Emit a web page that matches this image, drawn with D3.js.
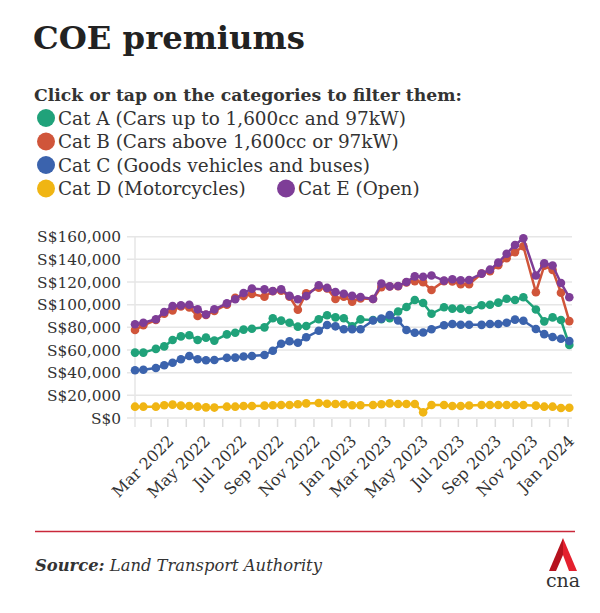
<!DOCTYPE html>
<html>
<head>
<meta charset="utf-8">
<script src="https://cdn.jsdelivr.net/npm/d3@7"></script>
<style>
  html, body { margin: 0; padding: 0; background: #fff; }
  svg { display: block; }
  text { font-family: "DejaVu Serif", "Liberation Serif", serif; }
</style>
</head>
<body>
<svg id="chart" width="600" height="613"></svg>
<script>
// ---- DATA ----
const dates = [
  "2022-01-05","2022-01-19","2022-02-09","2022-02-23","2022-03-09","2022-03-23",
  "2022-04-06","2022-04-20","2022-05-04","2022-05-18","2022-06-08","2022-06-22",
  "2022-07-06","2022-07-20","2022-08-10","2022-08-24","2022-09-07","2022-09-21",
  "2022-10-05","2022-10-19","2022-11-09","2022-11-23","2022-12-07","2022-12-21",
  "2023-01-04","2023-01-18","2023-02-08","2023-02-22","2023-03-08","2023-03-22",
  "2023-04-05","2023-04-19","2023-05-03","2023-05-17","2023-06-07","2023-06-21",
  "2023-07-05","2023-07-19","2023-08-09","2023-08-23","2023-09-06","2023-09-20",
  "2023-10-04","2023-10-18","2023-11-08","2023-11-22","2023-12-06","2023-12-20",
  "2024-01-03"
];
const catA = [57700,57700,61000,63200,68800,72000,73000,68800,70900,68300,73800,75300,78000,78800,80000,88000,85900,84100,80600,81200,87200,90700,88800,88000,81000,87000,86500,87100,88000,94000,98000,104100,101500,92000,97700,96500,96500,95300,99500,100000,101800,105200,104100,106500,95800,85300,88800,86500,64500];
const catB = [77700,81800,86500,92000,95000,98500,97500,90000,91000,94500,100000,106000,107600,109400,107000,111800,112400,107000,95500,110000,115000,114400,105000,107000,102700,105500,105000,115500,116000,116300,119700,120800,119800,113000,120800,120600,118000,118000,127500,129600,134800,141000,146400,151500,111000,134300,130600,110600,85500];
const catC = [42100,42600,44100,46600,48800,51800,54700,51800,50900,51200,53100,53300,54300,54700,55600,59400,65500,67700,66400,71200,77000,82100,80900,78300,78300,78300,86000,87700,90800,86000,77700,75300,75500,78300,81800,82900,82300,82300,82200,82900,82900,84100,86800,85800,78500,74000,71500,69900,68000];
const catD = [10000,10000,10000,11200,11800,10900,10600,10000,9400,9200,10000,10000,10600,10600,10900,11200,11500,11500,12100,12900,13200,12600,12400,12100,11200,11200,11500,12100,12900,12400,12400,12400,5000,11500,11500,10600,10600,11000,11500,11500,11500,11500,11500,11500,10900,10000,10000,8800,9100];
const catE = [82700,84100,87100,93600,98900,99400,100000,95900,91300,95900,101200,104800,110300,114200,113500,112100,113500,107800,104800,107600,117200,114800,111200,109600,107800,106800,105000,118600,116200,116500,120000,125000,124700,125800,121200,122400,121500,121800,127400,130900,137100,145000,152700,158600,125800,136500,134600,119200,106500];

const seriesNames = [
  "Cat A (Cars up to 1,600cc and 97kW)",
  "Cat B (Cars above 1,600cc or 97kW)",
  "Cat C (Goods vehicles and buses)",
  "Cat D (Motorcycles)",
  "Cat E (Open)"
];
const seriesValues = [catA, catB, catC, catD, catE];
const seriesColors = ["#20a27a", "#d0553a", "#3b63ad", "#f0b513", "#7e3d97"];
const yTicks = [0, 20000, 40000, 60000, 80000, 100000, 120000, 140000, 160000];

const title = "COE premiums";
const subtitle = "Click or tap on the categories to filter them:";
const sourceLabel = "Source:";
const sourceText = " Land Transport Authority";

// ---- DRAW ----
const svg = d3.select("#chart");
const parse = d3.timeParse("%Y-%m-%d");
const dts = dates.map(parse);

function fit(sel, target) {
  const n = sel.node();
  const fs = parseFloat(sel.attr("font-size"));
  const w = n.getComputedTextLength();
  sel.attr("font-size", (fs * target / w).toFixed(2));
}

// Title
const t = svg.append("text").attr("x", 33).attr("y", 49)
  .attr("font-size", 34).attr("font-weight", "bold").attr("fill", "#222").text(title);
fit(t, 272);

const st = svg.append("text").attr("x", 34).attr("y", 101)
  .attr("font-size", 18).attr("font-weight", "bold").attr("fill", "#333").text(subtitle);
fit(st, 428);

// Legend
const legRows = [
  {i: 0, x: 46, y: 118},
  {i: 1, x: 46, y: 141.5},
  {i: 2, x: 46, y: 165},
  {i: 3, x: 46, y: 188.5},
  {i: 4, x: 286, y: 188.5}
];
const probe = svg.append("text").attr("font-size", 17).text(seriesNames[0]);
const legFont = 17 * 348 / probe.node().getComputedTextLength();
probe.remove();
legRows.forEach(r => {
  svg.append("circle").attr("cx", r.x).attr("cy", r.y).attr("r", 9)
    .attr("fill", seriesColors[r.i]);
  svg.append("text").attr("x", r.x + 12).attr("y", r.y).attr("dy", "0.36em")
    .attr("font-size", legFont).attr("fill", "#333").text(seriesNames[r.i]);
});

// Scales
const x = d3.scaleTime().domain([dts[0], dts[dts.length - 1]]).range([135, 569.3]);
const y = d3.scaleLinear().domain([0, 160000]).range([418, 236.7]);

// Gridlines
svg.append("g").selectAll("line").data(yTicks).join("line")
  .attr("x1", 127).attr("x2", 572)
  .attr("y1", d => y(d)).attr("y2", d => y(d))
  .attr("stroke", "#e6e6e6").attr("stroke-width", 1.5);

// left vertical line
svg.append("line").attr("x1", x(dts[0])).attr("x2", x(dts[0]))
  .attr("y1", y(160000)).attr("y2", y(0) + 9)
  .attr("stroke", "#e6e6e6").attr("stroke-width", 1.5);

// Y labels
const yFmt = d => "S$" + d3.format(",")(d);
const yl = svg.append("g").selectAll("text").data(yTicks).join("text")
  .attr("x", 121).attr("y", d => y(d)).attr("dy", "0.36em")
  .attr("text-anchor", "end").attr("font-size", 15).attr("fill", "#333")
  .text(yFmt);
{
  const n = yl.filter(d => d === 160000).node();
  const fs = 15 * 84 / n.getComputedTextLength();
  yl.attr("font-size", fs.toFixed(2));
}

// X ticks
const months = d3.timeMonth.range(d3.timeMonth.ceil(dts[0]), d3.timeDay.offset(dts[dts.length - 1], 1));
svg.append("g").selectAll("line").data(months).join("line")
  .attr("x1", d => x(d)).attr("x2", d => x(d))
  .attr("y1", y(0) + 1).attr("y2", y(0) + 9)
  .attr("stroke", "#dcdcdc").attr("stroke-width", 1.5);

const labelMonths = months.filter(d => d.getMonth() % 2 === 0);
const xFmt = d3.timeFormat("%b %Y");
svg.append("g").selectAll("text").data(labelMonths).join("text")
  .attr("transform", d => `translate(${x(d) + 7},${y(0) + 24}) rotate(-45)`)
  .attr("text-anchor", "end").attr("font-size", 16).attr("fill", "#333")
  .text(xFmt);

// Lines and dots
const line = d3.line().x((d, i) => x(dts[i])).y(d => y(d));
seriesValues.forEach((vals, k) => {
  const g = svg.append("g");
  g.append("path").attr("d", line(vals)).attr("fill", "none")
    .attr("stroke", seriesColors[k]).attr("stroke-width", 2.5)
    .attr("stroke-linejoin", "round");
  g.selectAll("circle").data(vals).join("circle")
    .attr("cx", (d, i) => x(dts[i])).attr("cy", d => y(d)).attr("r", 4.3)
    .attr("fill", seriesColors[k]);
});

// Footer rule
svg.append("line").attr("x1", 35).attr("x2", 575).attr("y1", 531.5).attr("y2", 531.5)
  .attr("stroke", "#c9283a").attr("stroke-width", 1.5);

// Source
const src = svg.append("text").attr("x", 35).attr("y", 571).attr("font-size", 16)
  .attr("fill", "#333").attr("font-style", "italic");
src.append("tspan").attr("font-weight", "bold").text(sourceLabel);
src.append("tspan").text(sourceText);
fit(src, 287);

// CNA logo
const logo = svg.append("g");
logo.append("path").attr("d", "M563,538 L577,571 L569,571 L563,555 Z").attr("fill", "#e4202e");
logo.append("path").attr("d", "M563,538 L549,571 L556,571 L563,555 Z").attr("fill", "#b5121e");
logo.append("text").attr("x", 563).attr("y", 587).attr("text-anchor", "middle")
  .attr("font-family", "'DejaVu Sans', sans-serif").attr("font-size", 19)
  .attr("fill", "#333").text("cna");
</script>
</body>
</html>
